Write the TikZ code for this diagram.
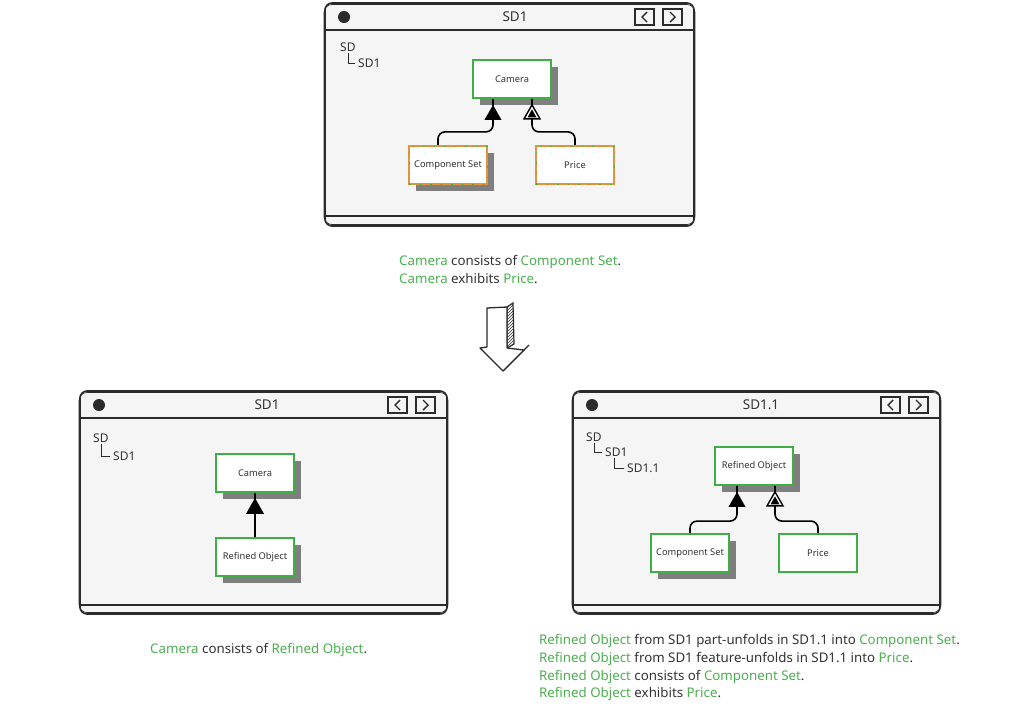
\documentclass[tikz,border=0pt]{standalone}
\usepackage{fontspec}
\setmainfont{Noto Sans}
\usetikzlibrary{shadows,calc,patterns}
\definecolor{ink}{HTML}{2B2B2B}
\definecolor{txt}{HTML}{333333}
\definecolor{grn}{HTML}{4CAF50}
\definecolor{bgrn}{HTML}{3FAE45}
\definecolor{org}{HTML}{E0953A}
\definecolor{winbg}{HTML}{F5F5F5}
\definecolor{shd}{HTML}{7F7F7F}
\newcommand\gr[1]{\textcolor{grn}{#1}}
\tikzset{
  objbox/.style={draw=bgrn, line width=1.8pt, fill=white, minimum width=78pt, minimum height=38pt, inner sep=0pt, font=\fontsize{9.3}{10}\selectfont, text=txt},
  shbox/.style={objbox, drop shadow={shadow xshift=7pt, shadow yshift=-7pt, fill=shd, opacity=1}},
  orgbox/.style={objbox, draw=org, line width=2.2pt, postaction={draw=bgrn, line width=1pt, dash pattern=on 1.5pt off 9pt}},
  conn/.style={draw=black, line width=1.6pt, rounded corners=7pt},
  winframe/.style={draw=ink, line width=1.6pt, fill=winbg, rounded corners=7pt},
  wtitle/.style={font=\fontsize{13.5}{15}\selectfont, text=txt, inner sep=0pt},
  tree/.style={font=\fontsize{12}{14}\selectfont, text=txt, inner sep=0pt, anchor=west},
  treeln/.style={draw=ink, line width=0.6pt},
  para/.style={font=\fontsize{13.3}{17.7}\selectfont, text=txt, inner sep=0pt, anchor=north west, align=left},
  headfill/.style={fill=black},
  headopen/.style={fill=white, draw=black, line width=1.4pt, line join=miter}
}
\newcommand\mkwin[6]{%
  \draw[winframe] (#1,#2) rectangle (#3,#4);
  \draw[ink, line width=0.7pt, rounded corners=8pt] (#1-1,#2+1.5) rectangle (#3+1,#4-1.5);
  \draw[ink, line width=1.3pt] (#1,#5) -- (#3,#5);
  \draw[ink, line width=1.3pt] (#1,#6) -- (#3,#6);
  \fill[ink] (#1+19,{(#2+#5)/2+0.5}) circle[radius=6pt];
  \draw[ink, line width=1.2pt] (#3-59,#2+6) rectangle (#3-40,#5-5);
  \draw[ink, line width=1.2pt] (#3-31,#2+6) rectangle (#3-12,#5-5);
  \draw[ink, line width=1.4pt] (#3-47,{(#2+#5)/2-4.5}) -- (#3-52,{(#2+#5)/2+0.5}) -- (#3-47,{(#2+#5)/2+5.5});
  \draw[ink, line width=1.4pt] (#3-24,{(#2+#5)/2-4.5}) -- (#3-19,{(#2+#5)/2+0.5}) -- (#3-24,{(#2+#5)/2+5.5});
}
\begin{document}
\begin{tikzpicture}[x=1pt,y=-1pt]
\useasboundingbox (0,0) rectangle (1024,713);
\fill[white] (0,0) rectangle (1024,713);

% ---------- top window ----------
\mkwin{325}{3}{694}{226}{30}{216}
\node[wtitle] (t1) at (515,17) {SD1};
\node[tree] (ta1) at (340,47) {SD};
\node[tree] (tb1) at (358,63) {SD1};
\draw[treeln] ($(ta1.south west)+(8,1)$) |- ($(tb1.west)+(-3,0)$);

\node[shbox] (cam1) at (512,79) {Camera};
\node[shbox, orgbox] (cs1) at (448,165) {Component Set};
\node[orgbox] (pr1) at (575,165) {Price};

\draw[conn] ($(cs1.north)+(-10,0)$) -- ++(0,-13) -| ($(cam1.south)+(-19,0)$);
\draw[conn] (pr1.north) -- ++(0,-13) -| ($(cam1.south)+(20,0)$);
\fill[headfill] ($(cam1.south)+(-19,6)$) -- ++(-8.5,15) -- ++(17,0) -- cycle;
\filldraw[headopen] ($(cam1.south)+(20,6)$) -- ++(-8,14) -- ++(16,0) -- cycle;
\fill[headfill] ($(cam1.south)+(20,10.5)$) -- ++(-4.5,8) -- ++(9,0) -- cycle;

\node[para] (txt1) at (399,255.5) {\gr{Camera} consists of \gr{Component Set}.\\\gr{Camera} exhibits \gr{Price}.};

% ---------- down arrow ----------
\draw[ink, line width=1.2pt, pattern=north east lines, pattern color=ink] (507,307) -- (513,303) -- (514,344) -- (507,348) -- cycle;
\draw[ink, line width=1.2pt, pattern=north east lines, pattern color=ink] (524,350) -- (529,345) -- (506,368) -- (503,371) -- cycle;
\draw[ink, line width=1.3pt, fill=white, line join=round] (487,308) -- (507,307) -- (507,348) -- (524,350) -- (503,371) -- (480,348) -- (487,347) -- cycle;

% ---------- bottom left window ----------
\mkwin{80}{391}{447}{614}{418}{605}
\node[wtitle] (t2) at (267,405) {SD1};
\node[tree] (ta2) at (93,438) {SD};
\node[tree] (tb2) at (113,456) {SD1};
\draw[treeln] ($(ta2.south west)+(8,1)$) |- ($(tb2.west)+(-3,0)$);

\node[shbox] (cam2) at (255,473) {Camera};
\node[shbox] (ro2) at (255,557) {Refined Object};
\draw[conn] (ro2.north) -- (cam2.south);
\fill[headfill] ($(cam2.south)+(0,5)$) -- ++(-9,16) -- ++(18,0) -- cycle;

\node[para] (txt2) at (150,643.5) {\gr{Camera} consists of \gr{Refined Object}.};

% ---------- bottom right window ----------
\mkwin{573}{391}{940}{614}{418}{605}
\node[wtitle] (t3) at (761,405) {SD1.1};
\node[tree] (ta3) at (586,437) {SD};
\node[tree] (tb3) at (605,452) {SD1};
\node[tree] (tc3) at (627,468) {SD1.1};
\draw[treeln] ($(ta3.south west)+(8,1)$) |- ($(tb3.west)+(-3,0)$);
\draw[treeln] ($(tb3.south west)+(9,1)$) |- ($(tc3.west)+(-3,0)$);

\node[shbox] (ro3) at (754,466) {Refined Object};
\node[shbox] (cs3) at (690,553) {Component Set};
\node[objbox] (pr3) at (818,553) {Price};

\draw[conn] (cs3.north) -- ++(0,-12) -| ($(ro3.south)+(-17,0)$);
\draw[conn] (pr3.north) -- ++(0,-12) -| ($(ro3.south)+(21,0)$);
\fill[headfill] ($(ro3.south)+(-17,6)$) -- ++(-8.5,15) -- ++(17,0) -- cycle;
\filldraw[headopen] ($(ro3.south)+(21,6)$) -- ++(-8,14) -- ++(16,0) -- cycle;
\fill[headfill] ($(ro3.south)+(21,10.5)$) -- ++(-4.5,8) -- ++(9,0) -- cycle;

\node[para] (txt3) at (539,634.5) {\gr{Refined Object} from SD1 part-unfolds in SD1.1 into \gr{Component Set}.\\
\gr{Refined Object} from SD1 feature-unfolds in SD1.1 into \gr{Price}.\\
\gr{Refined Object} consists of \gr{Component Set}.\\
\gr{Refined Object} exhibits \gr{Price}.};
\end{tikzpicture}
\end{document}
